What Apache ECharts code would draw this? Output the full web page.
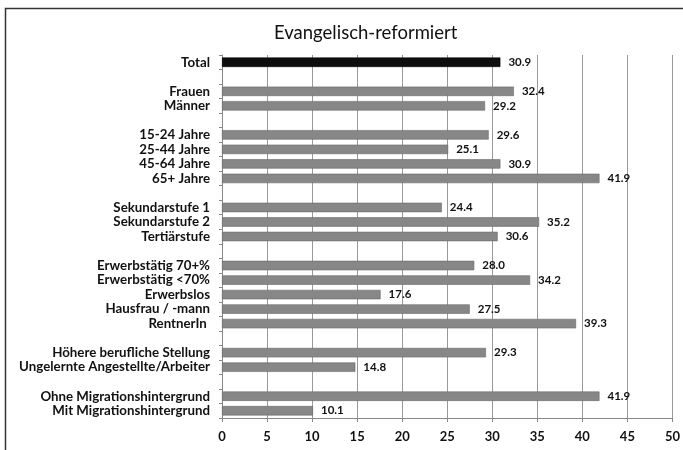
<!DOCTYPE html>
<html>
<head>
<meta charset="utf-8">
<script src="https://cdn.jsdelivr.net/npm/echarts@6/dist/echarts.min.js"></script>
<style>html,body{margin:0;padding:0;background:#fff;}#c{width:683px;height:450px;}</style>
</head>
<body>
<div id="c"></div>
<script>
const titleText = 'Evangelisch-reformiert';
const categories = [
  'Total', ' ',
  'Frauen', 'Männer', '  ',
  '15-24 Jahre', '25-44 Jahre', '45-64 Jahre', '65+ Jahre', '   ',
  'Sekundarstufe 1', 'Sekundarstufe 2', 'Tertiärstufe', '    ',
  'Erwerbstätig 70+%', 'Erwerbstätig <70%', 'Erwerbslos', 'Hausfrau / -mann', 'RentnerIn ', '     ',
  'Höhere berufliche Stellung', 'Ungelernte Angestellte/Arbeiter', '      ',
  'Ohne Migrationshintergrund', 'Mit Migrationshintergrund'
];
const values = [
  30.9, null,
  32.4, 29.2, null,
  29.6, 25.1, 30.9, 41.9, null,
  24.4, 35.2, 30.6, null,
  28.0, 34.2, 17.6, 27.5, 39.3, null,
  29.3, 14.8, null,
  41.9, 10.1
];
const xTicks = [0, 5, 10, 15, 20, 25, 30, 35, 40, 45, 50];

const font = 'Lato, "Open Sans", sans-serif';
const chart = echarts.init(document.getElementById('c'));
chart.setOption({
  animation: false,
  backgroundColor: '#fff',
  title: {
    text: titleText, left: 269, top: 19,
    textStyle: { fontFamily: font, fontSize: 18.5, fontWeight: 'normal', color: '#111' }
  },
  graphic: [{
    type: 'rect', silent: true,
    shape: { x: 5.5, y: 8.5, width: 720, height: 480 },
    style: { fill: null, stroke: '#333', lineWidth: 1.5 }
  }],
  grid: { left: 222, right: 10, top: 55, bottom: 32, containLabel: false },
  xAxis: {
    type: 'value', min: xTicks[0], max: xTicks[xTicks.length - 1], interval: 5,
    axisLine: { show: true, lineStyle: { color: '#888', width: 1 } },
    axisTick: { show: true, length: 4, lineStyle: { color: '#888' } },
    splitLine: { show: true, lineStyle: { color: '#999', width: 1 } },
    axisLabel: { margin: 12, fontFamily: font, fontSize: 13, fontWeight: 'bold', color: '#111' }
  },
  yAxis: {
    type: 'category', data: categories, inverse: true,
    axisLine: { show: true, lineStyle: { color: '#888', width: 1 } },
    axisTick: { show: true, length: 3, lineStyle: { color: '#888' } },
    axisLabel: { interval: 0, margin: 12, fontFamily: font, fontSize: 13.3, fontWeight: 'bold', color: '#111' },
    splitLine: { show: false }
  },
  series: [{
    type: 'bar',
    data: values.map((v, i) => v === null ? '-' : {
      value: v,
      itemStyle: { color: i === 0 ? '#0d0d0d' : '#878787', borderColor: i === 0 ? '#000' : '#6a6a6a', borderWidth: 0.6 }
    }),
    barWidth: '65%',
    label: {
      show: true, position: 'right', distance: 8,
      formatter: p => p.value.toFixed(1),
      fontFamily: font, fontSize: 11.5, fontWeight: 'bold', color: '#111'
    }
  }]
});
</script>
</body>
</html>
